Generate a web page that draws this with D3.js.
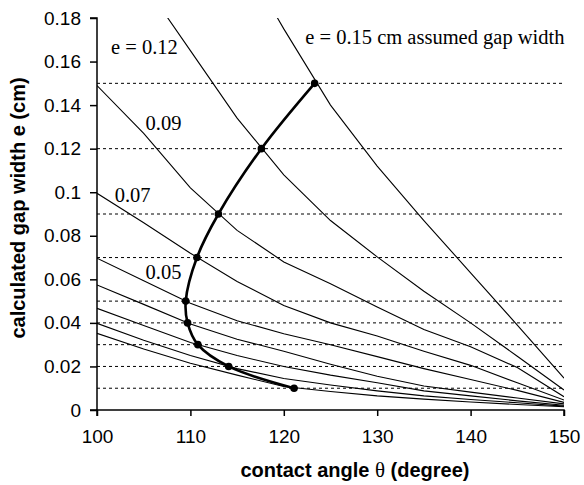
<!DOCTYPE html>
<html>
<head>
<meta charset="utf-8">
<script src="https://cdn.jsdelivr.net/npm/d3@7"></script>
<style>
  body { margin: 0; background: #fff; }
  svg { display: block; }
</style>
</head>
<body>
<div class="chart"></div>
<script>
// Contact angles (degree) at which the model curves are evaluated
var angles = [100, 105, 110, 115, 120, 125, 130, 135, 140, 145, 150];

// Calculated gap width e (cm) for each assumed gap width, one array per curve
var e015 = [null, null, null, 0.212, 0.175, 0.140, 0.112, 0.087, 0.063, 0.039, 0.0146];
var e012 = [null, 0.196, 0.165, 0.134, 0.108, 0.087, 0.0703, 0.0545, 0.040, 0.0247, 0.0092];
var e009 = [0.149, 0.127, 0.102, 0.0825, 0.068, 0.058, 0.0473, 0.037, 0.029, 0.0195, 0.0061];
var e007 = [0.0995, 0.086, 0.072, 0.059, 0.048, 0.040, 0.034, 0.027, 0.0205, 0.0125, 0.0046];
var e005 = [0.0697, 0.0594, 0.049, 0.041, 0.035, 0.030, 0.0245, 0.019, 0.014, 0.009, 0.0035];
var e004 = [0.0574, 0.0485, 0.0395, 0.0325, 0.027, 0.021, 0.0155, 0.011, 0.0082, 0.0055, 0.0028];
var e003 = [0.0467, 0.0388, 0.031, 0.025, 0.020, 0.016, 0.0125, 0.0088, 0.0065, 0.0042, 0.0022];
var e002 = [0.0398, 0.032, 0.025, 0.019, 0.0145, 0.0115, 0.0088, 0.0065, 0.0048, 0.0033, 0.0018];
var e001 = [0.0352, 0.028, 0.0215, 0.016, 0.0108, 0.0085, 0.0065, 0.005, 0.0037, 0.0025, 0.0015];
var curves = [e015, e012, e009, e007, e005, e004, e003, e002, e001];

// Assumed gap widths (dotted reference levels)
var assumedE = [0.01, 0.02, 0.03, 0.04, 0.05, 0.07, 0.09, 0.12, 0.15];

// Solution points: contact angle where calculated e equals assumed e
var solutionAngles = [121.1, 114.1, 110.8, 109.7, 109.5, 110.7, 113.0, 117.6, 123.3];

// Tick labels
var xTicks = [100, 110, 120, 130, 140, 150];
var yTicks = [0, 0.02, 0.04, 0.06, 0.08, 0.1, 0.12, 0.14, 0.16, 0.18];
var yTickLabels = ["0", "0.02", "0.04", "0.06", "0.08", "0.1", "0.12", "0.14", "0.16", "0.18"];

// Curve labels: text, angle, e
var labelTexts = ["e = 0.12", "0.09", "0.07", "0.05", "e = 0.15 cm assumed gap width"];
var labelAngles = [101.5, 105.2, 101.9, 105.2, 122.3];
var labelE = [0.1635, 0.1286, 0.0956, 0.0600, 0.1681];

var svgWidth = 584;
var svgHeight = 485;

var margin = { top: 18, right: 20, bottom: 75, left: 97 };
var width = svgWidth - margin.left - margin.right;
var height = svgHeight - margin.top - margin.bottom;

var svg = d3.select(".chart")
  .append("svg")
  .attr("width", svgWidth)
  .attr("height", svgHeight);

var chartGroup = svg.append("g")
  .attr("transform", `translate(${margin.left}, ${margin.top})`);

var x = d3.scaleLinear().domain([100, 150]).range([0, width]);
var y = d3.scaleLinear().domain([0, 0.18]).range([height, 0]);

svg.append("defs").append("clipPath")
  .attr("id", "plot-clip")
  .append("rect")
  .attr("x", 0).attr("y", 0)
  .attr("width", width).attr("height", height);

// dotted assumed-gap levels
chartGroup.selectAll(".level")
  .data(assumedE)
  .enter()
  .append("line")
  .attr("class", "level")
  .attr("x1", x(100))
  .attr("x2", x(149.8))
  .attr("y1", d => y(d))
  .attr("y2", d => y(d))
  .attr("stroke", "#000")
  .attr("stroke-width", 1)
  .attr("stroke-dasharray", "3,3");

// thin model curves
var line = d3.line()
  .defined(d => d[1] != null)
  .x(d => x(d[0]))
  .y(d => y(d[1]));

chartGroup.append("g")
  .attr("clip-path", "url(#plot-clip)")
  .selectAll(".curve")
  .data(curves)
  .enter()
  .append("path")
  .attr("class", "curve")
  .attr("d", d => line(angles.map((a, i) => [a, d[i]])))
  .attr("fill", "none")
  .attr("stroke", "#000")
  .attr("stroke-width", 1.1);

// bold solution curve
var solution = solutionAngles.map((a, i) => [a, assumedE[i]]);

chartGroup.append("path")
  .attr("d", d3.line().curve(d3.curveCatmullRom.alpha(0.5))
    .x(d => x(d[0])).y(d => y(d[1]))(solution))
  .attr("fill", "none")
  .attr("stroke", "#000")
  .attr("stroke-width", 2.6);

chartGroup.selectAll(".dot")
  .data(solution)
  .enter()
  .append("circle")
  .attr("class", "dot")
  .attr("cx", d => x(d[0]))
  .attr("cy", d => y(d[1]))
  .attr("r", 3.8)
  .attr("fill", "#000");

// axes
var bottomAxis = d3.axisBottom(x).tickValues(xTicks).tickSize(6).tickPadding(14);
var leftAxis = d3.axisLeft(y).tickValues(yTicks).tickSize(7).tickPadding(9)
  .tickFormat((d, i) => yTickLabels[i]);

var yAxisG = chartGroup.append("g").call(leftAxis);
var xAxisG = chartGroup.append("g")
  .attr("transform", `translate(0, ${height})`)
  .call(bottomAxis);

[xAxisG, yAxisG].forEach(function(g) {
  g.select(".domain").attr("stroke-width", 1.5);
  g.selectAll(".tick line").attr("stroke-width", 1.5);
  g.selectAll("text")
    .attr("font-family", "Liberation Sans, Arial, sans-serif")
    .attr("font-size", 19)
    .attr("fill", "#000");
});
xAxisG.select(".domain").attr("d", `M0,6V0H${width}V6`);
yAxisG.select(".domain").attr("d", `M-7,0H0V${height}H-7`);

// curve labels
chartGroup.selectAll(".lbl")
  .data(labelTexts)
  .enter()
  .append("text")
  .attr("class", "lbl")
  .attr("x", (d, i) => x(labelAngles[i]))
  .attr("y", (d, i) => y(labelE[i]))
  .attr("font-family", "Liberation Serif, Times New Roman, serif")
  .attr("font-size", 20.5)
  .attr("fill", "#000")
  .text(d => d);

// axis titles
var xTitle = svg.append("text")
  .attr("x", 355)
  .attr("y", 477)
  .attr("text-anchor", "middle")
  .attr("font-family", "Liberation Sans, Arial, sans-serif")
  .attr("font-size", 20)
  .attr("font-weight", "bold");
xTitle.append("tspan").text("contact angle ");
xTitle.append("tspan")
  .attr("font-family", "Liberation Serif, Times New Roman, serif")
  .attr("font-weight", "normal")
  .attr("font-size", 21)
  .text("θ");
xTitle.append("tspan").text(" (degree)");

svg.append("text")
  .attr("transform", "translate(25, 208) rotate(-90)")
  .attr("text-anchor", "middle")
  .attr("font-family", "Liberation Sans, Arial, sans-serif")
  .attr("font-size", 20)
  .attr("font-weight", "bold")
  .text("calculated gap width e (cm)");
</script>
</body>
</html>
